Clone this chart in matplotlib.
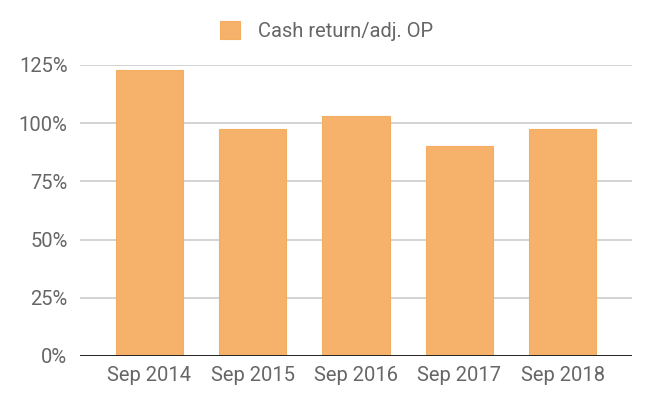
import matplotlib.pyplot as plt
from matplotlib.ticker import FuncFormatter

years = ['Sep 2014', 'Sep 2015', 'Sep 2016', 'Sep 2017', 'Sep 2018']
cash_return = [122.8, 97.4, 103.3, 90.1, 97.4]
y_ticks = [0, 25, 50, 75, 100, 125]

plt.rcParams['font.family'] = ['Roboto', 'DejaVu Sans']

fig = plt.figure(figsize=(6.53, 4.08), dpi=100)
ax = fig.add_axes([0.1225, 0.1275, 0.8455, 0.7132])

x = list(range(len(years)))
bars = ax.bar(x, cash_return, width=0.65, color='#F6B26B', edgecolor='#F4AE62',
              linewidth=0.8, zorder=3, label='Cash return/adj. OP')

ax.set_xlim(-0.67, len(years) - 1 + 0.67)
ax.set_ylim(0, 125)
ax.set_yticks(y_ticks)
ax.yaxis.set_major_formatter(FuncFormatter(lambda v, p: '%d%%' % v))
ax.set_xticks(x)
ax.set_xticklabels(years)

ax.grid(axis='y', color='#cccccc', linewidth=1.2, zorder=0)
ax.axhline(0, color='#222222', linewidth=1.4, zorder=4)
for s in ax.spines.values():
    s.set_visible(False)
ax.tick_params(axis='both', length=0, labelsize=14.5, colors='#666666')
ax.tick_params(axis='x', pad=7)
ax.tick_params(axis='y', pad=9)

leg = fig.legend(handles=[bars], labels=['Cash return/adj. OP'], loc='center',
                 bbox_to_anchor=(0.5, 0.925), frameon=False, fontsize=14.5,
                 handlelength=1.0, handleheight=1.0, handletextpad=0.9)
for t in leg.get_texts():
    t.set_color('#666666')

fig.savefig('out.png', dpi=100)
